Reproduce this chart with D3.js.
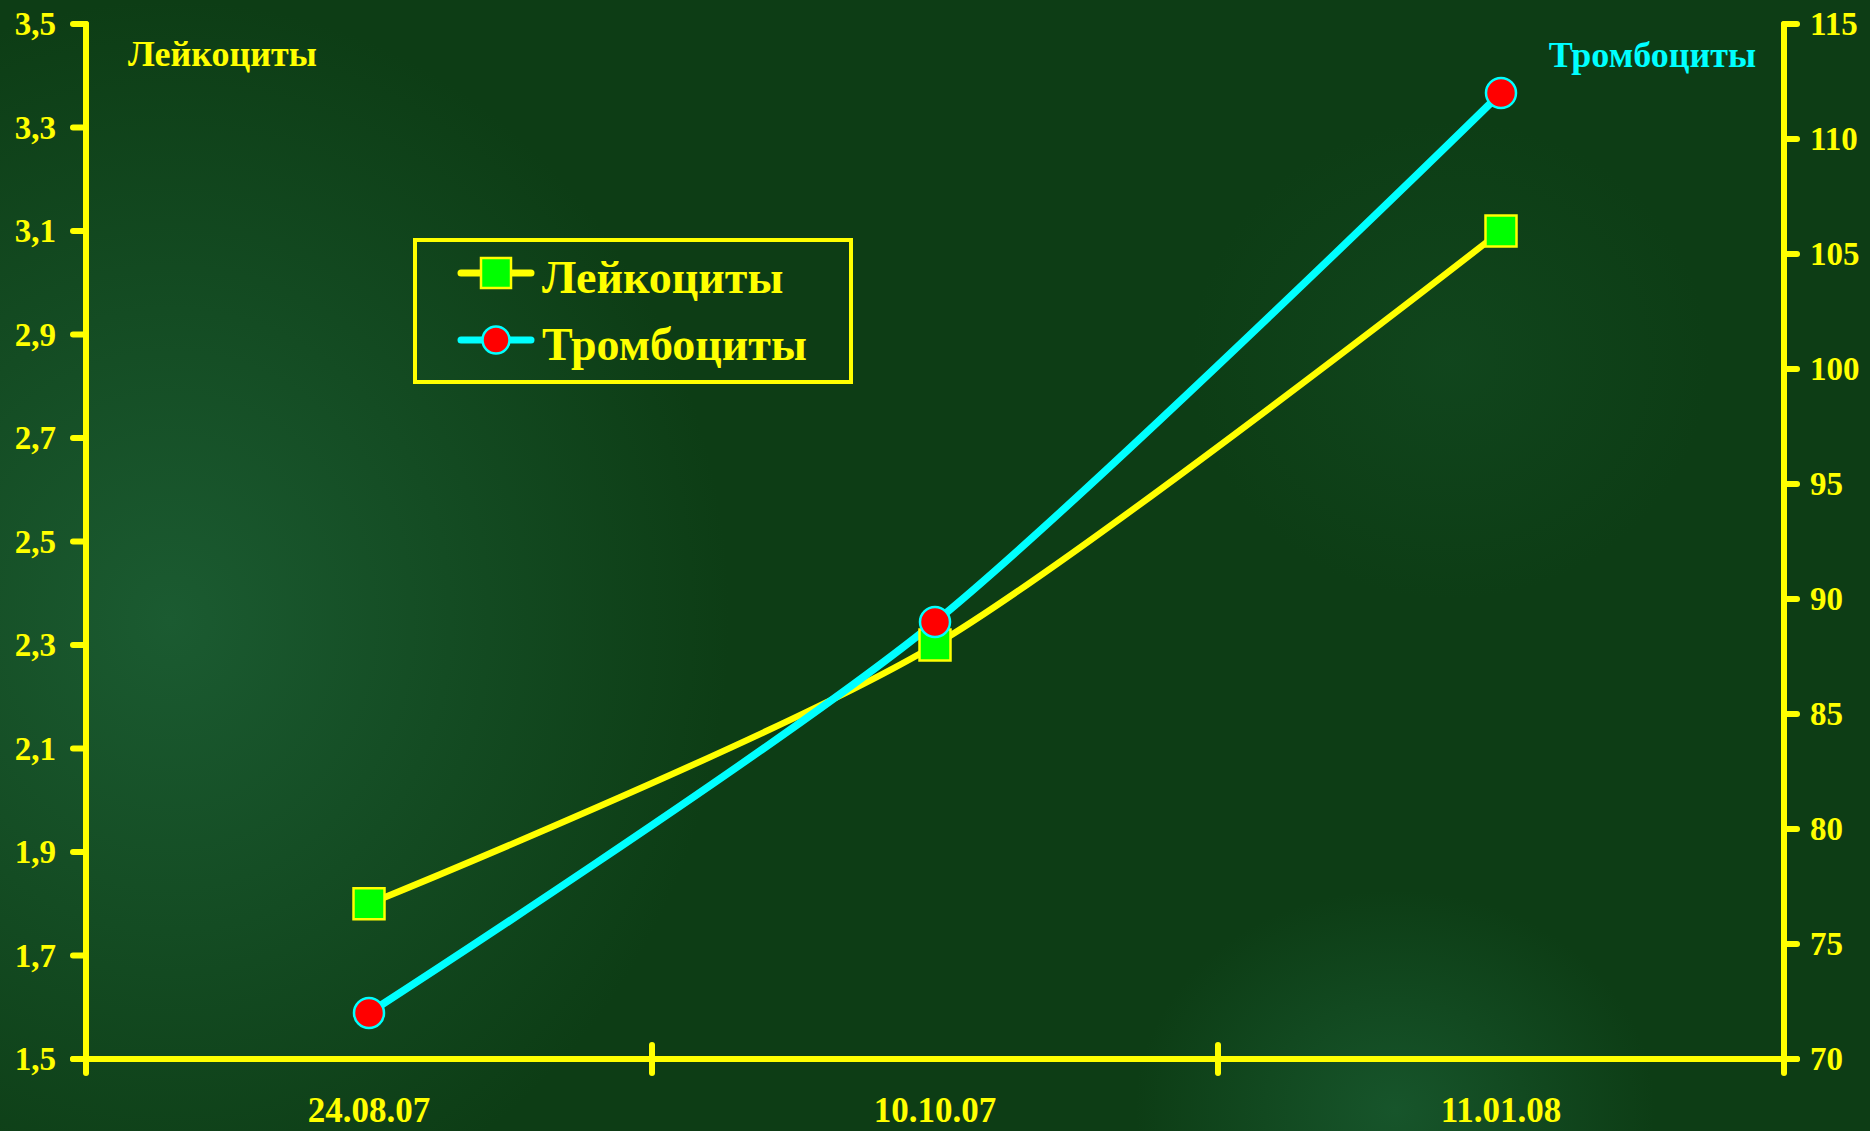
<!DOCTYPE html>
<html>
<head>
<meta charset="utf-8">
<script src="https://cdn.jsdelivr.net/npm/d3@7"></script>
<style>
  body { margin: 0; background: #0d3d15; }
  svg { display: block; }
  text { font-family: "Liberation Serif", "Times New Roman", serif; font-weight: bold; }
</style>
</head>
<body>
<div id="chart"></div>
<script>
// chart data
const dates = ['24.08.07', '10.10.07', '11.01.08'];
const leukocytes = [1.8, 2.3, 3.1];
const platelets = [72, 89, 112];
const leftTicks = [1.5, 1.7, 1.9, 2.1, 2.3, 2.5, 2.7, 2.9, 3.1, 3.3, 3.5];
const rightTicks = [70, 75, 80, 85, 90, 95, 100, 105, 110, 115];
const seriesNames = ['Лейкоциты', 'Тромбоциты'];

const width = 1870, height = 1131;
const margin = { top: 24, right: 86, bottom: 72, left: 86 };
const yellow = '#ffff00', cyan = '#00ffff';

const svg = d3.select('#chart').append('svg')
    .attr('width', width)
    .attr('height', height);

// background with soft lighter spots
const defs = svg.append('defs');
function spot(id, color) {
    const g = defs.append('radialGradient').attr('id', id);
    g.append('stop').attr('offset', '0%').attr('stop-color', color).attr('stop-opacity', 1);
    g.append('stop').attr('offset', '100%').attr('stop-color', color).attr('stop-opacity', 0);
}
spot('spotA', '#1b5b31');
spot('spotB', '#17552b');
svg.append('rect').attr('width', width).attr('height', height).attr('fill', '#0d3d15');
svg.append('ellipse').attr('cx', 170).attr('cy', 620).attr('rx', 560).attr('ry', 620).attr('fill', 'url(#spotA)');
svg.append('ellipse').attr('cx', 1395).attr('cy', 1110).attr('rx', 260).attr('ry', 220).attr('fill', 'url(#spotB)');
svg.append('ellipse').attr('cx', 1450).attr('cy', 360).attr('rx', 260).attr('ry', 240).attr('fill', 'url(#spotB)').attr('opacity', 0.35);

const x0 = margin.left, x1 = width - margin.right;
const yTop = margin.top, yBot = height - margin.bottom;

const x = d3.scaleBand().domain(dates).range([x0, x1]);
const yL = d3.scaleLinear().domain([1.5, 3.5]).range([yBot, yTop]);
const yR = d3.scaleLinear().domain([70, 115]).range([yBot, yTop]);

const fmtL = d => d3.format('.1f')(d).replace('.', ',');

// left axis
const leftAxis = svg.append('g');
leftAxis.append('line')
    .attr('x1', x0).attr('x2', x0).attr('y1', yTop).attr('y2', yBot + 14)
    .attr('stroke', yellow).attr('stroke-width', 6).attr('stroke-linecap', 'round');
leftAxis.selectAll('.tick').data(leftTicks).enter().append('line')
    .attr('x1', x0 - 13).attr('x2', x0)
    .attr('y1', d => yL(d)).attr('y2', d => yL(d))
    .attr('stroke', yellow).attr('stroke-width', 6).attr('stroke-linecap', 'round');
leftAxis.selectAll('text').data(leftTicks).enter().append('text')
    .attr('x', x0 - 30).attr('y', d => yL(d) + 11)
    .attr('text-anchor', 'end').attr('font-size', 33).attr('fill', yellow)
    .text(fmtL);

// right axis
const rightAxis = svg.append('g');
rightAxis.append('line')
    .attr('x1', x1).attr('x2', x1).attr('y1', yTop).attr('y2', yBot + 14)
    .attr('stroke', yellow).attr('stroke-width', 6).attr('stroke-linecap', 'round');
rightAxis.selectAll('.tick').data(rightTicks).enter().append('line')
    .attr('x1', x1).attr('x2', x1 + 13)
    .attr('y1', d => yR(d)).attr('y2', d => yR(d))
    .attr('stroke', yellow).attr('stroke-width', 6).attr('stroke-linecap', 'round');
rightAxis.selectAll('text').data(rightTicks).enter().append('text')
    .attr('x', x1 + 26).attr('y', d => yR(d) + 11)
    .attr('text-anchor', 'start').attr('font-size', 33).attr('fill', yellow)
    .text(d => d);

// bottom axis with ticks between categories
const bottom = svg.append('g');
bottom.append('line')
    .attr('x1', x0 - 13).attr('x2', x1 + 13).attr('y1', yBot).attr('y2', yBot)
    .attr('stroke', yellow).attr('stroke-width', 6).attr('stroke-linecap', 'round');
bottom.selectAll('.tick').data(dates.slice(1)).enter().append('line')
    .attr('x1', d => x(d)).attr('x2', d => x(d))
    .attr('y1', yBot - 14).attr('y2', yBot + 14)
    .attr('stroke', yellow).attr('stroke-width', 6).attr('stroke-linecap', 'round');
bottom.selectAll('text').data(dates).enter().append('text')
    .attr('x', d => x(d) + x.bandwidth() / 2).attr('y', yBot + 63)
    .attr('text-anchor', 'middle').attr('font-size', 35).attr('fill', yellow)
    .text(d => d);

// axis titles
svg.append('text').attr('x', 128).attr('y', 66)
    .attr('font-size', 36).attr('fill', yellow).text(seriesNames[0]);
svg.append('text').attr('x', 1756).attr('y', 67).attr('text-anchor', 'end')
    .attr('font-size', 36).attr('fill', cyan).text(seriesNames[1]);

const cx = d => x(d) + x.bandwidth() / 2;
const curve = d3.curveCardinal.tension(0.2);

// lines
const lineL = d3.line().x((d, i) => cx(dates[i])).y(d => yL(d)).curve(curve);
const lineR = d3.line().x((d, i) => cx(dates[i])).y(d => yR(d)).curve(curve);

svg.append('path').datum(leukocytes).attr('d', lineL)
    .attr('fill', 'none').attr('stroke', yellow).attr('stroke-width', 6.5);
svg.append('path').datum(platelets).attr('d', lineR)
    .attr('fill', 'none').attr('stroke', cyan).attr('stroke-width', 7.5);

// markers
svg.selectAll('.sq').data(leukocytes).enter().append('rect')
    .attr('x', (d, i) => cx(dates[i]) - 15.5).attr('y', d => yL(d) - 15.5)
    .attr('width', 31).attr('height', 31)
    .attr('fill', '#00ff00').attr('stroke', yellow).attr('stroke-width', 2.5);
svg.selectAll('.dot').data(platelets).enter().append('circle')
    .attr('cx', (d, i) => cx(dates[i])).attr('cy', d => yR(d)).attr('r', 15)
    .attr('fill', '#ff0000').attr('stroke', cyan).attr('stroke-width', 2.5);

// legend
const legend = svg.append('g');
legend.append('rect').attr('x', 415).attr('y', 240).attr('width', 436).attr('height', 142)
    .attr('fill', 'none').attr('stroke', yellow).attr('stroke-width', 4);
const legendItems = [
    { name: seriesNames[0], color: yellow, y: 273 },
    { name: seriesNames[1], color: cyan, y: 340 }
];
legendItems.forEach((item, i) => {
    legend.append('line').attr('x1', 461).attr('x2', 531).attr('y1', item.y).attr('y2', item.y)
        .attr('stroke', item.color).attr('stroke-width', 7).attr('stroke-linecap', 'round');
    if (i === 0) {
        legend.append('rect').attr('x', 481).attr('y', item.y - 15).attr('width', 30).attr('height', 30)
            .attr('fill', '#00ff00').attr('stroke', yellow).attr('stroke-width', 2.5);
    } else {
        legend.append('circle').attr('cx', 496).attr('cy', item.y).attr('r', 13.5)
            .attr('fill', '#ff0000').attr('stroke', cyan).attr('stroke-width', 2.5);
    }
    legend.append('text').attr('x', 542).attr('y', item.y + 20)
        .attr('font-size', 46).attr('fill', yellow).text(item.name);
});
</script>
</body>
</html>
